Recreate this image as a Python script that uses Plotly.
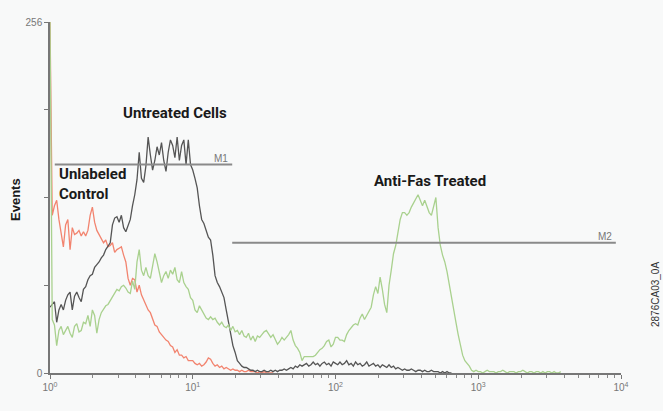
import math
import plotly.graph_objects as go

# Histogram counts per channel (256 channels spanning 4 decades, 10^0..10^4)
unlabeled_control = [256,
    115,122,126,112,101,92,108,112,90,106,101,102,104,100,103,100,104,115,121,110,
    104,101,98,95,97,92,93,95,88,90,91,92,86,81,69,64,69,68,59,64,
    57,53,50,46,44,39,35,34,30,28,26,24,23,20,19,15,17,13,13,11,
    12,9,9,9,7,6,7,5,6,8,11,10,7,5,6,4,5,3,4,3,
    2,3,2,2,1,2,1,1,2,1,1,1,0,1,0,1,0,0,0,0]

untreated_cells = [48,
    50,52,37,46,50,46,53,57,59,46,56,59,55,52,61,63,68,71,72,77,
    79,81,84,86,90,93,95,108,113,114,110,115,106,103,108,112,122,130,141,161,
    142,139,151,172,159,148,155,165,159,168,155,147,161,170,166,157,172,155,166,170,
    152,170,152,148,142,135,122,112,109,104,99,97,86,71,66,63,59,55,46,37,
    30,20,15,9,7,5,4,4,3,2,2,1,2,1,1,2,1,1,2,1,
    2,1,2,2,3,2,3,4,3,5,4,6,5,6,7,5,6,8,6,7,
    5,7,8,6,7,5,8,7,6,8,6,7,9,6,7,5,8,6,7,5,
    6,8,5,6,7,5,6,4,6,5,4,6,4,5,3,4,3,2,3,2,
    2,3,2,1,2,2,1,2,1,1,2,1,1,1,0,1,0,1,0,0]

anti_fas_treated = [256,
    39,35,20,31,34,28,31,34,29,26,34,36,30,31,37,36,42,34,46,42,
    29,39,44,47,49,50,53,55,58,61,60,63,64,62,59,58,67,61,81,90,
    75,71,77,71,69,77,87,81,74,66,71,74,69,75,72,77,68,66,74,66,
    63,61,55,53,46,44,49,46,42,40,39,41,39,40,37,35,37,34,33,35,
    31,34,30,31,28,31,27,26,29,24,27,23,27,26,28,30,31,28,26,28,
    24,21,23,26,24,26,28,31,24,20,18,15,9,12,12,12,12,12,13,15,
    17,18,20,23,24,19,21,26,26,24,24,23,28,31,33,35,36,35,40,43,
    39,42,46,48,57,63,58,70,61,50,44,64,75,87,93,104,112,117,117,115,
    117,121,124,126,130,126,122,126,121,117,115,122,128,106,93,86,81,74,64,55,
    46,37,28,20,13,9,7,5,2,1,2,1,1,0,1,2,1,1,1,0,
    1,1,2,1,0,1,1,1,0,1,1,2,1,0,1,1,0,1,1,0,
    1,0,1,1,0,1,0,0,1]

series_names = ["Unlabeled Control", "Untreated Cells", "Anti-Fas Treated"]
series_colors = ["#f2846f", "#555555", "#a9d18e"]

# Marker gates (M1, M2): start/end fluorescence and event level
gate_names = ["M1", "M2"]
gate_start = [1.08, 18.9]
gate_end = [18.9, 9200]
gate_level = [152, 95]

x_tick_vals = [1, 10, 100, 1000, 10000]
x_tick_text = ["10<sup>0</sup>", "10<sup>1</sup>", "10<sup>2</sup>", "10<sup>3</sup>", "10<sup>4</sup>"]
y_tick_vals = [0, 256]
y_tick_text = ["0", "256"]
y_minor_vals = [64, 128, 192]

n_channels = 256
decades = 4

fig = go.Figure()
for name, counts, color in zip(series_names,
                               [unlabeled_control, untreated_cells, anti_fas_treated],
                               series_colors):
    xs = [10 ** (ch * decades / n_channels) for ch in range(len(counts))]
    fig.add_trace(go.Scatter(x=xs, y=counts, mode="lines", name=name,
                             line=dict(color=color, width=1.3), showlegend=False))

label_font = dict(family="Liberation Sans Narrow, Arial Narrow, Arial", size=10, color="#777777")
for name, x0, x1, lvl in zip(gate_names, gate_start, gate_end, gate_level):
    fig.add_trace(go.Scatter(x=[x0, x1], y=[lvl, lvl], mode="lines",
                             line=dict(color="#8a8a8a", width=2), showlegend=False))
    fig.add_annotation(x=math.log10(x1), y=lvl, text=name, showarrow=False,
                       xanchor="right", yanchor="bottom", yshift=-1, xshift=-2,
                       font=label_font)

minor_vals = [m * 10 ** d for d in range(4) for m in range(2, 10)]

bold_font = dict(family="Liberation Sans Narrow, Arial Narrow, Roboto, Arial", size=15, color="#1a1a1a")

fig.add_annotation(xref="paper", yref="paper", x=(175 - 50) / 571, y=(373 - 113) / 351,
                   text="<b>Untreated Cells</b>", showarrow=False, font=bold_font,
                   xanchor="center", yanchor="middle")
fig.add_annotation(xref="paper", yref="paper", x=(57 - 50) / 571, y=(373 - 184) / 351,
                   text="<b>Unlabeled<br>Control</b>", showarrow=False, font=bold_font,
                   xanchor="left", yanchor="middle", align="left")
fig.add_annotation(xref="paper", yref="paper", x=(430 - 50) / 571, y=(373 - 181) / 351,
                   text="<b>Anti-Fas Treated</b>", showarrow=False, font=bold_font,
                   xanchor="center", yanchor="middle")
fig.add_annotation(xref="paper", yref="paper", x=(15 - 50) / 571, y=(373 - 200) / 351,
                   text="<b>Events</b>", showarrow=False, textangle=-90,
                   font=dict(family="Liberation Sans Narrow, Arial Narrow, Arial", size=13, color="#1a1a1a"),
                   xanchor="center", yanchor="middle")
fig.add_annotation(xref="paper", yref="paper", x=(655 - 50) / 571, y=(373 - 295) / 351,
                   text="2876CA03_0A", showarrow=False, textangle=-90,
                   font=dict(family="Liberation Sans, Arial", size=10, color="#333333"),
                   xanchor="center", yanchor="middle")

fig.update_layout(
    width=663, height=411,
    margin=dict(l=50, r=42, t=22, b=38),
    paper_bgcolor="#f8f9f9", plot_bgcolor="#f8f9f9",
    xaxis=dict(type="log", range=[0, 4], showgrid=False, zeroline=False,
               showline=True, linecolor="#777777", linewidth=1.5,
               ticks="outside", ticklen=4, tickcolor="#777777",
               tickvals=x_tick_vals, ticktext=x_tick_text,
               tickfont=dict(family="Liberation Sans, Arial", size=10, color="#777777"),
               minor=dict(tickvals=minor_vals, ticks="outside", ticklen=3, tickcolor="#888888")),
    yaxis=dict(range=[0, 256], showgrid=False, zeroline=False,
               showline=True, linecolor="#777777", linewidth=1.5,
               ticks="outside", ticklen=4, tickcolor="#777777",
               tickvals=y_tick_vals, ticktext=y_tick_text,
               tickfont=dict(family="Liberation Sans, Arial", size=10, color="#777777"),
               minor=dict(tickvals=y_minor_vals, ticks="outside", ticklen=4, tickcolor="#777777")),
)

fig.write_html("out.html")
